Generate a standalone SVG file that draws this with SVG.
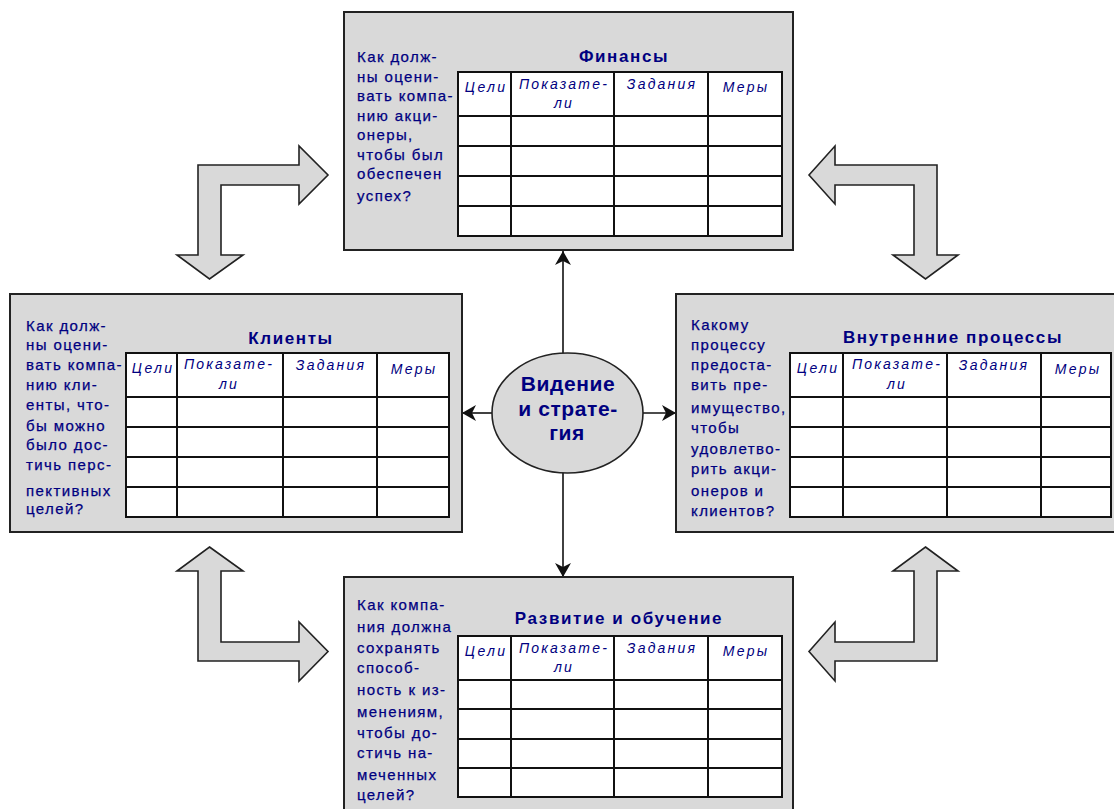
<svg xmlns="http://www.w3.org/2000/svg" width="1114" height="809" viewBox="0 0 1114 809">
<defs>
<style>
.box{fill:#d9d9d9;stroke:#222;stroke-width:2}
.tbl{fill:#fff;stroke:#111;stroke-width:2}
.grid{stroke:#111;stroke-width:2}
.q{font-family:"Liberation Sans",Arial,sans-serif;font-size:15px;fill:#000080;letter-spacing:1.4px;stroke:#000080;stroke-width:0.25}
.title{font-family:"Liberation Sans",Arial,sans-serif;font-size:17px;font-weight:bold;fill:#000080;text-anchor:middle;letter-spacing:1.6px}
.hd{font-family:"Liberation Sans",Arial,sans-serif;font-size:14px;font-style:italic;fill:#000080;text-anchor:middle;letter-spacing:2.2px}
.bent{fill:#d9d9d9;stroke:#222;stroke-width:1.6;stroke-linejoin:miter}
.conn{stroke:#111;stroke-width:1.6;fill:none;marker-end:url(#ah)}
.ctr{font-family:"Liberation Sans",Arial,sans-serif;font-size:21px;font-weight:bold;fill:#000080;text-anchor:middle;letter-spacing:0.6px}
</style>
<marker id="ah" markerUnits="userSpaceOnUse" markerWidth="14" markerHeight="16" viewBox="0 0 14 16" refX="14" refY="8" orient="auto">
<path d="M0,0 L14,8 L0,16 L4,8 Z" fill="#111"/>
</marker>
</defs>
<rect width="1114" height="809" fill="#fff"/>

<g id="connectors">
<line class="conn" x1="563" y1="355" x2="563" y2="251"/>
<line class="conn" x1="563" y1="471" x2="563" y2="577"/>
<line class="conn" x1="493" y1="413" x2="462" y2="413"/>
<line class="conn" x1="642" y1="413" x2="676" y2="413"/>
<path class="bent" d="M198,165 L299,165 L299,146 L328,175 L299,204 L299,185 L221,185 L221,255 L243,255 L209.5,279 L177,255 L198,255 Z"/>
<path class="bent" d="M937,165 L835,165 L835,146 L809,175 L835,204 L835,185 L914,185 L914,255 L893,255 L925.5,279 L958,255 L937,255 Z"/>
<path class="bent" d="M209.5,547 L243,571 L221,571 L221,642 L299,642 L299,622 L328,651.5 L299,681 L299,661 L198,661 L198,571 L177,571 Z"/>
<path class="bent" d="M925.5,547 L958,571 L937,571 L937,661 L835,661 L835,681 L809,651.5 L835,622 L835,642 L914,642 L914,571 L893,571 Z"/>
</g>

<g id="finance">
<rect class="box" x="344" y="12" width="449" height="238"/>
<text class="title" x="624" y="62">Финансы</text>
<text class="q" x="357" y="62">Как долж-</text>
<text class="q" x="357" y="82">ны оцени-</text>
<text class="q" x="357" y="101">вать компа-</text>
<text class="q" x="357" y="121">нию акци-</text>
<text class="q" x="357" y="140">онеры,</text>
<text class="q" x="357" y="160">чтобы был</text>
<text class="q" x="357" y="179">обеспечен</text>
<text class="q" x="357" y="201">успех?</text>
<rect class="tbl" x="458" y="72" width="324" height="164"/>
<path class="grid" d="M511,72V236M614,72V236M708,72V236M458,116H782M458,146H782M458,176H782M458,206H782"/>
<text class="hd" x="486" y="92">Цели</text>
<text class="hd" x="564" y="89">Показате-</text>
<text class="hd" x="564" y="108">ли</text>
<text class="hd" x="662" y="89">Задания</text>
<text class="hd" x="746" y="92">Меры</text>
</g>

<g id="clients">
<rect class="box" x="10" y="294" width="452" height="238"/>
<text class="title" x="291" y="344">Клиенты</text>
<text class="q" x="26" y="331">Как долж-</text>
<text class="q" x="26" y="350">ны оцени-</text>
<text class="q" x="26" y="370">вать компа-</text>
<text class="q" x="26" y="390">нию кли-</text>
<text class="q" x="26" y="410">енты, что-</text>
<text class="q" x="26" y="431">бы можно</text>
<text class="q" x="26" y="450">было дос-</text>
<text class="q" x="26" y="470">тичь перс-</text>
<text class="q" x="26" y="496">пективных</text>
<text class="q" x="26" y="514">целей?</text>
<rect class="tbl" x="126" y="353" width="323" height="164"/>
<path class="grid" d="M177,353V517M283,353V517M377,353V517M126,397H449M126,427H449M126,457H449M126,487H449"/>
<text class="hd" x="153" y="373">Цели</text>
<text class="hd" x="229" y="369">Показате-</text>
<text class="hd" x="229" y="389">ли</text>
<text class="hd" x="331" y="370">Задания</text>
<text class="hd" x="414" y="374">Меры</text>
</g>

<g id="processes">
<rect class="box" x="676" y="294" width="442" height="238"/>
<text class="title" x="953" y="343">Внутренние процессы</text>
<text class="q" x="691" y="330">Какому</text>
<text class="q" x="691" y="350">процессу</text>
<text class="q" x="691" y="370">предоста-</text>
<text class="q" x="691" y="390">вить пре-</text>
<text class="q" x="691" y="413">имущество,</text>
<text class="q" x="691" y="433">чтобы</text>
<text class="q" x="691" y="454">удовлетво-</text>
<text class="q" x="691" y="474">рить акци-</text>
<text class="q" x="691" y="496">онеров и</text>
<text class="q" x="691" y="516">клиентов?</text>
<rect class="tbl" x="790" y="353" width="321" height="164"/>
<path class="grid" d="M843,353V517M947,353V517M1041,353V517M790,397H1111M790,427H1111M790,457H1111M790,487H1111"/>
<text class="hd" x="818" y="373">Цели</text>
<text class="hd" x="897" y="369">Показате-</text>
<text class="hd" x="897" y="389">ли</text>
<text class="hd" x="994" y="370">Задания</text>
<text class="hd" x="1078" y="374">Меры</text>
</g>

<g id="learning">
<rect class="box" x="344" y="577" width="449" height="245"/>
<text class="title" x="619" y="624">Развитие и обучение</text>
<text class="q" x="357" y="610">Как компа-</text>
<text class="q" x="357" y="632">ния должна</text>
<text class="q" x="357" y="653">сохранять</text>
<text class="q" x="357" y="673">способ-</text>
<text class="q" x="357" y="695">ность к из-</text>
<text class="q" x="357" y="717">менениям,</text>
<text class="q" x="357" y="738">чтобы до-</text>
<text class="q" x="357" y="758">стичь на-</text>
<text class="q" x="357" y="780">меченных</text>
<text class="q" x="357" y="800">целей?</text>
<rect class="tbl" x="458" y="636" width="324" height="161"/>
<path class="grid" d="M511,636V797M614,636V797M708,636V797M458,680H782M458,709H782M458,739H782M458,768H782"/>
<text class="hd" x="486" y="656">Цели</text>
<text class="hd" x="564" y="653">Показате-</text>
<text class="hd" x="564" y="672">ли</text>
<text class="hd" x="662" y="653">Задания</text>
<text class="hd" x="746" y="656">Меры</text>
</g>

<g id="vision">
<ellipse cx="567.5" cy="413" rx="75.5" ry="60" fill="#d9d9d9" stroke="#222" stroke-width="1.6"/>
<text class="ctr" x="568" y="391">Видение</text>
<text class="ctr" x="568" y="416">и страте-</text>
<text class="ctr" x="567" y="440">гия</text>
</g>
</svg>
